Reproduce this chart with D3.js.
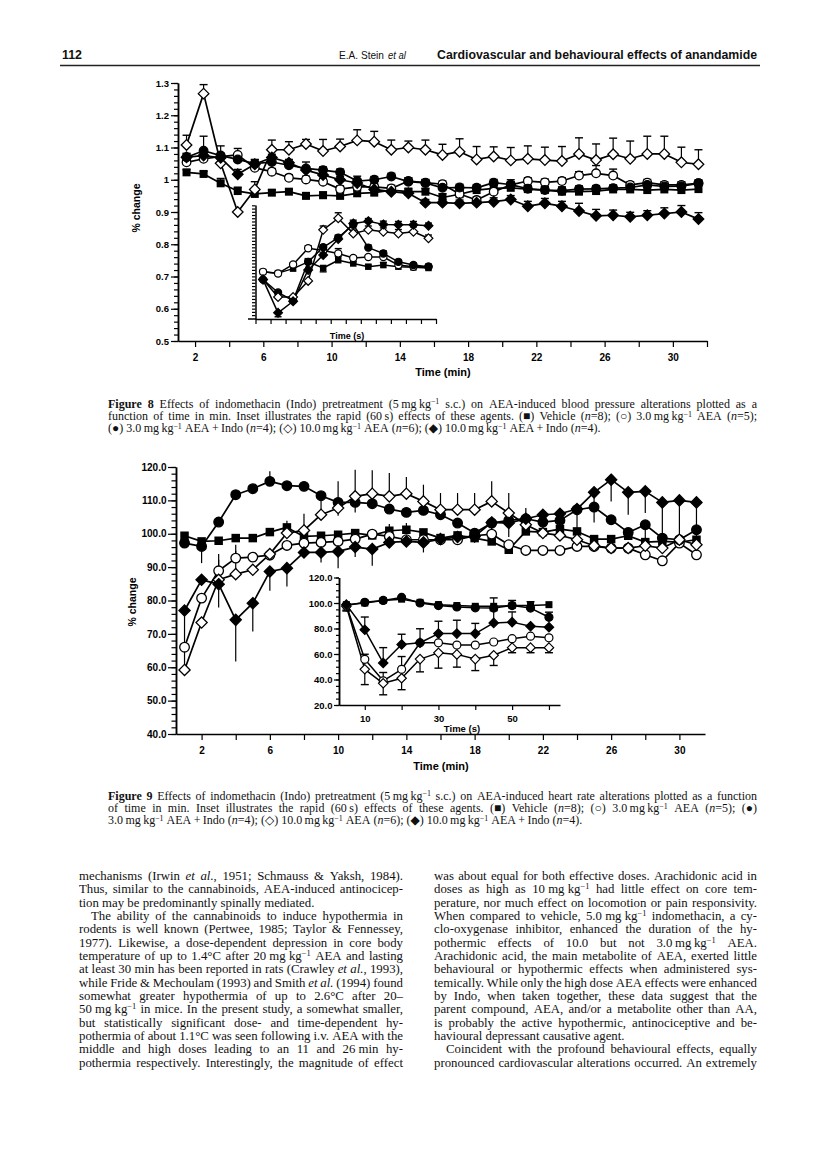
<!DOCTYPE html>
<html><head><meta charset="utf-8">
<script src="https://cdn.jsdelivr.net/npm/d3@7"></script>
<style>body{margin:0;background:#fff} svg{display:block}</style>
</head><body>
<svg id="page" width="816" height="1151"></svg>
<script>
// ---------------- DATA ----------------
// Figure 8 (blood pressure, fraction of baseline) main panel, time in min
const fig8Time = [1.5,2.5,3.5,4.5,5.5,6.5,7.5,8.5,9.5,10.5,11.5,12.5,13.5,14.5,15.5,16.5,17.5,18.5,19.5,20.5,21.5,22.5,23.5,24.5,25.5,26.5,27.5,28.5,29.5,30.5,31.5];
const fig8Vehicle    = [1.023,1.018,0.989,0.965,0.956,0.960,0.963,0.950,0.952,0.950,0.958,0.960,0.968,0.963,0.963,0.945,0.955,0.968,0.973,0.975,0.971,0.968,0.963,0.963,0.965,0.970,0.970,0.968,0.970,0.968,0.971];
const fig8VehicleErr = [0.008,0.008,0.015,0.012,0.010,0.008,0.008,0.010,0.010,0.012,0.010,0.010,0.010,0.010,0.010,0.012,0.010,0.010,0.010,0.012,0.012,0.012,0.015,0.015,0.015,0.012,0.012,0.012,0.012,0.012,0.012];
const fig8AEA3       = [1.054,1.065,1.072,1.077,1.037,1.025,1.006,1.001,0.994,0.971,0.978,0.978,0.973,0.996,0.991,0.986,0.956,0.937,0.963,0.984,0.996,0.992,0.996,1.013,1.020,1.013,0.984,0.991,0.984,0.984,0.989];
const fig8AEA3Err    = [0.010,0.010,0.010,0.020,0.010,0.010,0.010,0.010,0.010,0.010,0.010,0.010,0.010,0.010,0.010,0.010,0.010,0.010,0.010,0.010,0.010,0.010,0.010,0.012,0.024,0.020,0.010,0.010,0.010,0.010,0.010];
const fig8AEA3Indo   = [1.070,1.090,1.075,1.063,1.050,1.055,1.045,1.035,1.030,1.023,0.996,1.000,1.010,0.994,0.990,0.975,0.976,0.975,0.991,0.985,0.972,0.968,0.966,0.971,0.972,0.974,0.976,0.984,0.979,0.980,0.989];
const fig8AEA3IndoErr= [0.012,0.045,0.030,0.012,0.012,0.010,0.010,0.020,0.010,0.010,0.015,0.010,0.010,0.012,0.010,0.010,0.010,0.010,0.010,0.015,0.010,0.010,0.010,0.010,0.010,0.010,0.010,0.010,0.010,0.010,0.010];
const fig8AEA10      = [1.108,1.267,1.051,0.900,0.970,1.093,1.093,1.111,1.089,1.103,1.122,1.118,1.093,1.100,1.093,1.077,1.087,1.063,1.072,1.060,1.065,1.061,1.058,1.080,1.061,1.079,1.065,1.080,1.080,1.054,1.048];
const fig8AEA10Err   = [0.030,0.028,0.030,0.000,0.024,0.030,0.025,0.014,0.036,0.023,0.033,0.032,0.030,0.020,0.030,0.033,0.040,0.040,0.030,0.040,0.040,0.040,0.045,0.050,0.050,0.050,0.055,0.055,0.055,0.047,0.045];
const fig8AEA10Indo  = [1.070,1.075,1.068,1.017,1.048,1.069,1.053,1.030,1.015,1.000,0.990,0.970,0.963,0.958,0.929,0.929,0.927,0.929,0.932,0.939,0.918,0.927,0.918,0.903,0.888,0.890,0.885,0.890,0.895,0.900,0.878];
const fig8AEA10IndoErr=[0.010,0.010,0.010,0.015,0.015,0.010,0.010,0.010,0.010,0.010,0.010,0.010,0.010,0.010,0.010,0.010,0.010,0.012,0.012,0.012,0.015,0.015,0.015,0.024,0.020,0.016,0.014,0.014,0.018,0.020,0.020];
const fig8YTicks  = [0.5,0.6,0.7,0.8,0.9,1.0,1.1,1.2,1.3];
const fig8YLabels = ["0.5","0.6","0.7","0.8","0.9","1","1.1","1.2","1.3"];
const fig8XLabels = [2,6,10,14,18,22,26,30];

// Figure 8 inset (first 60 s)
const fig8InsetTime = [2.5,7.5,12.5,17.5,22.5,27.5,32.5,37.5,42.5,47.5,52.5,57.5];
const fig8InsetVehicle     = [0.714,0.710,0.724,0.745,0.726,0.750,0.740,0.730,0.735,0.730,0.728,0.726];
const fig8InsetVehicleErr  = [0.005,0.005,0.008,0.010,-0.012,0.012,0.005,0.005,0.008,0.006,0.006,0.005];
const fig8InsetAEA3        = [0.714,0.709,0.737,0.787,0.780,0.771,0.757,0.760,0.760,0.735,0.730,0.730];
const fig8InsetAEA3Err     = [0.005,0.005,0.005,0.008,0.010,0.015,0.005,0.005,0.010,0.010,0.010,0.008];
const fig8InsetAEA3Indo    = [0.690,0.650,0.625,0.745,0.790,0.820,0.860,0.789,0.771,0.745,0.735,0.730];
const fig8InsetAEA3IndoErr = [0.000,0.000,0.000,0.008,0.008,0.008,0.008,0.008,0.008,0.006,0.006,0.006];
const fig8InsetAEA10       = [0.690,0.636,0.636,0.686,0.844,0.880,0.833,0.844,0.838,0.833,0.838,0.818];
const fig8InsetAEA10Err    = [0.000,0.000,0.000,0.000,0.012,0.017,0.010,0.012,0.012,0.012,0.015,0.010];
const fig8InsetAEA10Indo   = [0.690,0.587,0.623,0.720,0.766,0.816,0.864,0.871,0.861,0.860,0.860,0.857];
const fig8InsetAEA10IndoErr= [0.000,-0.012,0.000,0.000,0.000,0.010,0.010,0.008,0.010,0.010,0.010,0.008];

// Figure 9 (heart rate, % of baseline) main panel, time in min
const fig9Time = [1,2,3,4,5,6,7,8,9,10,11,12,13,14,15,16,17,18,19,20,21,22,23,24,25,26,27,28,29,30,31];
const fig9Vehicle     = [99.4,97.7,97.9,98.7,98.7,100.5,101.9,99.2,99.4,99.7,100.2,99.5,100.9,101.2,100.4,98.7,99.5,98.7,97.7,95.2,100.7,100.5,101.4,100.7,98.4,98.4,99.4,97.5,97.7,97.5,98.2];
const fig9VehicleErr  = [0,0,0,0,0,0,2,0,0,0,0,0,2,2,0,0,0,0,0,0,3,0,2,0,0,0,0,0,0,0,0];
const fig9AEA3        = [66.0,80.7,88.9,92.7,93.0,93.6,96.5,97.2,97.4,97.7,98.4,99.9,99.2,98.2,98.2,98.2,98.2,99.4,99.9,96.7,95.0,95.0,95.0,96.2,96.2,95.7,95.7,93.7,91.9,97.2,93.7];
const fig9AEA3Err     = [-6,0,5,4,0,0,0,0,0,0,0,0,0,0,0,0,0,0,0,0,0,0,0,0,0,0,0,0,0,0,0];
const fig9AEA3Indo    = [97.2,96.2,103.5,111.7,113.5,115.7,114.4,114.2,111.4,109.4,109.4,109.0,107.4,106.4,107.0,105.7,103.2,100.2,103.2,104.0,104.5,103.5,104.0,107.2,108.0,104.2,100.4,102.7,98.7,98.2,101.2];
const fig9AEA3IndoErr = [0,-5,0,0,0,3,0,0,0,-4,-3,0,0,0,0,0,0,0,-3,-5,0,0,0,0,0,0,0,-5,0,0,-4];
const fig9AEA10       = [59.2,73.4,86.2,87.9,89.2,93.9,100.2,101.0,105.7,107.7,111.2,112.0,111.2,112.0,109.7,107.2,107.2,107.2,109.7,106.2,102.7,100.2,99.5,98.2,96.4,95.7,95.7,96.4,95.7,98.2,96.7];
const fig9AEA10Err    = [0,0,6,7,0,0,0,5,6,8,8,7,7,5,5,5,5,5,6,6,5,0,0,0,0,0,0,0,0,0,0];
const fig9AEA10Indo   = [77.0,86.2,84.9,74.2,79.2,88.7,89.7,94.4,94.4,94.7,96.0,95.4,97.4,97.7,97.4,98.4,99.0,99.2,103.4,103.2,104.5,105.7,106.0,107.4,112.4,116.2,112.4,112.7,109.4,110.0,109.4];
const fig9AEA10IndoErr= [-11,0,-7,-12.5,-8.5,-5.8,-5.5,0,-3,-5,-3,-5,0,0,-3,0,0,0,0,0,0,0,0,-8,-9,-6.5,-6.7,-6.5,-11.7,-12,-9];
const fig9YLabels = ["40.0","50.0","60.0","70.0","80.0","90.0","100.0","110.0","120.0"];
const fig9YTicks  = [40,50,60,70,80,90,100,110,120];
const fig9XLabels = [2,6,10,14,18,22,26,30];

// Figure 9 inset (first 60 s)
const fig9InsetTime = [5,10,15,20,25,30,35,40,45,50,55,60];
const fig9InsetVehicle     = [98.7,100.0,102.0,103.0,100.5,98.7,98.0,97.4,97.4,98.0,98.0,98.7];
const fig9InsetVehicleErr  = [-5,0,0,0,0,0,0,0,0,0,0,0];
const fig9InsetAEA3        = [98.0,55.8,39.0,48.0,68.8,68.8,67.0,67.0,69.4,72.0,74.0,72.7];
const fig9InsetAEA3Err     = [0,4,6.5,10,0,0,0,0,0,0,0,0];
const fig9InsetAEA3Indo    = [98.0,100.5,102.0,104.4,100.0,98.0,96.9,96.2,96.0,98.0,96.0,88.8];
const fig9InsetAEA3IndoErr = [0,0,0,0,0,0,0,0,8,4,5,4];
const fig9InsetAEA10       = [97.4,48.0,37.0,41.0,56.0,60.9,59.7,56.0,59.0,65.0,65.0,65.0];
const fig9InsetAEA10Err    = [-3,-12,-9,-9,-10,-12,-10,-9,-8,-4,-4,-4];
const fig9InsetAEA10Indo   = [98.7,79.0,53.0,67.5,68.8,76.0,76.0,76.0,84.4,85.0,81.8,81.0];
const fig9InsetAEA10IndoErr= [0,10,12,8,11,9.7,10.5,8,9.6,8,0,0];
const fig9InsetYTicks  = [20,40,60,80,100,120];
const fig9InsetYLabels = ["20.0","40.0","60.0","80.0","100.0","120.0"];
const fig9InsetXLabels = [10,30,50];

// Text
const headerLeft = "112";
const headerAuthor = "E.A. Stein";
const headerEtAl = "et al";
const headerTitle = "Cardiovascular and behavioural effects of anandamide";
const caption8 = [
 "*Figure 8*  Effects of indomethacin (Indo) pretreatment (5\u2009mg\u2009kg^\u22121^ s.c.) on AEA-induced blood pressure alterations plotted as a",
 "function of time in min. Inset illustrates the rapid (60\u2009s) effects of these agents. (\u25A0) Vehicle (_n_=8); (\u25CB) 3.0\u2009mg\u2009kg^\u22121^ AEA (_n_=5);",
 "(\u25CF) 3.0\u2009mg\u2009kg^\u22121^ AEA\u2009+\u2009Indo (_n_=4); (\u25C7) 10.0\u2009mg\u2009kg^\u22121^ AEA (_n_=6); (\u25C6) 10.0\u2009mg\u2009kg^\u22121^ AEA\u2009+\u2009Indo (_n_=4)."
];
const caption9 = [
 "*Figure 9*  Effects of indomethacin (Indo) pretreatment (5\u2009mg\u2009kg^\u22121^ s.c.) on AEA-induced heart rate alterations plotted as a function",
 "of time in min. Inset illustrates the rapid (60\u2009s) effects of these agents. (\u25A0) Vehicle (_n_=8); (\u25CB) 3.0\u2009mg\u2009kg^\u22121^ AEA (_n_=5); (\u25CF)",
 "3.0\u2009mg\u2009kg^\u22121^ AEA\u2009+\u2009Indo (_n_=4); (\u25C7) 10.0\u2009mg\u2009kg^\u22121^ AEA (_n_=6); (\u25C6) 10.0\u2009mg\u2009kg^\u22121^ AEA\u2009+\u2009Indo (_n_=4)."
];
const bodyLeft = [
 ["mechanisms (Irwin _et al._, 1951; Schmauss & Yaksh, 1984).",1,0],
 ["Thus, similar to the cannabinoids, AEA-induced antinocicep-",1,0],
 ["tion may be predominantly spinally mediated.",0,0],
 ["The ability of the cannabinoids to induce hypothermia in",1,1],
 ["rodents is well known (Pertwee, 1985; Taylor & Fennessey,",1,0],
 ["1977). Likewise, a dose-dependent depression in core body",1,0],
 ["temperature of up to 1.4\u00B0C after 20\u00A0mg\u00A0kg^\u22121^ AEA and lasting",1,0],
 ["at least 30 min has been reported in rats (Crawley _et al._, 1993),",1,0],
 ["while Fride & Mechoulam (1993) and Smith _et al._ (1994) found",1,0],
 ["somewhat greater hypothermia of up to 2.6\u00B0C after 20\u2013",1,0],
 ["50\u00A0mg\u00A0kg^\u22121^ in mice. In the present study, a somewhat smaller,",1,0],
 ["but statistically significant dose- and time-dependent hy-",1,0],
 ["pothermia of about 1.1\u00B0C was seen following i.v. AEA with the",1,0],
 ["middle and high doses leading to an 11 and 26\u00A0min hy-",1,0],
 ["pothermia respectively. Interestingly, the magnitude of effect",1,0]
];
const bodyRight = [
 ["was about equal for both effective doses. Arachidonic acid in",1,0],
 ["doses as high as 10\u00A0mg\u00A0kg^\u22121^ had little effect on core tem-",1,0],
 ["perature, nor much effect on locomotion or pain responsivity.",1,0],
 ["When compared to vehicle, 5.0\u00A0mg\u00A0kg^\u22121^ indomethacin, a cy-",1,0],
 ["clo-oxygenase inhibitor, enhanced the duration of the hy-",1,0],
 ["pothermic effects of 10.0 but not 3.0\u2009mg\u2009kg^\u22121^ AEA.",1,0],
 ["Arachidonic acid, the main metabolite of AEA, exerted little",1,0],
 ["behavioural or hypothermic effects when administered sys-",1,0],
 ["temically. While only the high dose AEA effects were enhanced",1,0],
 ["by Indo, when taken together, these data suggest that the",1,0],
 ["parent compound, AEA, and/or a metabolite other than AA,",1,0],
 ["is probably the active hypothermic, antinociceptive and be-",1,0],
 ["havioural depressant causative agent.",0,0],
 ["Coincident with the profound behavioural effects, equally",1,1],
 ["pronounced cardiovascular alterations occurred. An extremely",1,0]
];

// ---------------- DRAWING ----------------
const SANS = "'Liberation Sans', Arial, Helvetica, sans-serif";
const NARROW = "'Liberation Sans Narrow', 'Liberation Sans', Arial, sans-serif";
const SERIF = "'Liberation Serif', 'Times New Roman', 'DejaVu Serif', serif";
const INK = "#111";
const svg = d3.select('#page');
svg.append('rect').attr('width',816).attr('height',1151).attr('fill','#fff');

// header
svg.append('text').attr('x',62).attr('y',59).attr('font-family',NARROW).attr('font-weight','bold')
  .attr('font-size',12).attr('fill',INK).attr('textLength',20).attr('lengthAdjust','spacingAndGlyphs').text(headerLeft);
svg.append('text').attr('x',339).attr('y',59).attr('font-family',NARROW).attr('font-size',11.5).attr('fill',INK)
  .attr('textLength',45).attr('lengthAdjust','spacingAndGlyphs').text(headerAuthor);
svg.append('text').attr('x',388).attr('y',59).attr('font-family',NARROW).attr('font-size',11.5).attr('fill',INK)
  .attr('font-style','italic').attr('textLength',18).attr('lengthAdjust','spacingAndGlyphs').text(headerEtAl);
svg.append('text').attr('x',437).attr('y',59).attr('font-family',NARROW).attr('font-weight','bold').attr('font-size',12)
  .attr('fill',INK).attr('textLength',320).attr('lengthAdjust','spacingAndGlyphs').text(headerTitle);
svg.append('line').attr('x1',60).attr('x2',760).attr('y1',65.5).attr('y2',65.5).attr('stroke','#222').attr('stroke-width',1.3);

function drawMarker(g, type, x, y, s) {
  if (type === 'sq') {
    g.append('rect').attr('x', x - s.sq/2).attr('y', y - s.sq/2).attr('width', s.sq).attr('height', s.sq).attr('fill', '#000');
  } else if (type === 'oc' || type === 'fc') {
    g.append('circle').attr('cx', x).attr('cy', y).attr('r', s.r)
      .attr('fill', type === 'fc' ? '#000' : '#fff').attr('stroke', '#000').attr('stroke-width', s.sw);
  } else {
    const d = s.d;
    g.append('path').attr('d', `M${x},${y-d}L${x+d},${y}L${x},${y+d}L${x-d},${y}Z`)
      .attr('fill', type === 'fd' ? '#000' : '#fff').attr('stroke', '#000').attr('stroke-width', s.sw);
  }
}

function drawSeries(g, cfg) {
  const eg = g.append('g');
  cfg.series.forEach(s => {
    s.v.forEach((v, i) => {
      const e = s.e[i]; if (!e) return;
      const x = cfg.xs(cfg.times[i]), y0 = cfg.ys(v), y1 = cfg.ys(v + e);
      eg.append('line').attr('x1', x).attr('x2', x).attr('y1', y0).attr('y2', y1).attr('stroke', '#000').attr('stroke-width', 1.2);
      if (cfg.cap) eg.append('line').attr('x1', x - cfg.cap).attr('x2', x + cfg.cap).attr('y1', y1).attr('y2', y1)
        .attr('stroke', '#000').attr('stroke-width', 1.4);
    });
  });
  const line = d3.line().x((d, i) => cfg.xs(cfg.times[i])).y(d => cfg.ys(d));
  cfg.series.forEach(s => g.append('path').attr('d', line(s.v)).attr('fill', 'none').attr('stroke', '#000')
    .attr('stroke-width', cfg.lw).attr('stroke-linejoin', 'round'));
  cfg.series.forEach(s => s.v.forEach((v, i) => drawMarker(g, s.type, cfg.xs(cfg.times[i]), cfg.ys(v), cfg.ms)));
}

function styleAxis(g, fs) {
  g.attr('font-family', SANS).attr('font-size', fs).attr('font-weight', 'bold');
  g.selectAll('.domain').attr('stroke', '#000').attr('stroke-width', 1.5);
  g.selectAll('.tick line').attr('stroke', '#000').attr('stroke-width', 1.2);
  g.selectAll('.tick text').attr('fill', '#000');
}

function axisLabel(x, y, txt, fs, rot) {
  const t = svg.append('text').attr('font-family', SANS).attr('font-weight', 'bold').attr('font-size', fs)
    .attr('fill', '#000').attr('text-anchor', 'middle').text(txt);
  if (rot) t.attr('transform', `translate(${x},${y}) rotate(-90)`);
  else t.attr('x', x).attr('y', y);
}

// ===== Figure 8 =====
const x8 = d3.scaleLinear().domain([1, 32]).range([178, 707]);
const y8 = d3.scaleLinear().domain([0.5, 1.3]).range([341, 83]);
const g8 = svg.append('g');
styleAxis(g8.append('g').attr('transform', 'translate(178,0)')
  .call(d3.axisLeft(y8).tickValues(d3.range(0.5, 1.301, 0.02)).tickSize(4).tickSizeOuter(0).tickFormat('')), 9.5);
styleAxis(g8.append('g').attr('transform', 'translate(178,0)')
  .call(d3.axisLeft(y8).tickValues(fig8YTicks).tickSize(7).tickSizeOuter(0).tickPadding(2)
    .tickFormat((d, i) => fig8YLabels[i])), 9.5);
styleAxis(g8.append('g').attr('transform', 'translate(0,341)')
  .call(d3.axisBottom(x8).tickValues(d3.range(2, 33, 2)).tickSize(6).tickSizeOuter(0).tickPadding(7)
    .tickFormat(d => fig8XLabels.includes(d) ? d : '')), 10);
axisLabel(443, 376, 'Time (min)', 11);
axisLabel(140, 208, '% change', 10.5, true);

drawSeries(g8, {
  xs: x8, ys: y8, times: fig8Time, cap: 4, lw: 1.7,
  ms: {sq: 8, r: 4.3, d: 5.3, sw: 1.3},
  series: [
    {v: fig8Vehicle, e: fig8VehicleErr, type: 'sq'},
    {v: fig8AEA3, e: fig8AEA3Err, type: 'oc'},
    {v: fig8AEA3Indo, e: fig8AEA3IndoErr, type: 'fc'},
    {v: fig8AEA10, e: fig8AEA10Err, type: 'od'},
    {v: fig8AEA10Indo, e: fig8AEA10IndoErr, type: 'fd'}
  ]
});

// Figure 8 inset
const xi8 = d3.scaleLinear().domain([0, 60]).range([255.5, 436]);
const yi8 = d3.scaleLinear().domain([0.568, 0.921]).range([319, 205]);
const gi8 = svg.append('g');
styleAxis(gi8.append('g').attr('transform', 'translate(255.5,0)')
  .call(d3.axisLeft(yi8).tickValues(d3.range(0.58, 0.921, 0.01)).tickSize(3.5).tickSizeOuter(0).tickFormat('')), 9);
styleAxis(gi8.append('g').attr('transform', 'translate(0,319)')
  .call(d3.axisBottom(xi8).tickValues(d3.range(0, 61, 5)).tickSize(5).tickSizeOuter(0).tickFormat('')), 9);
gi8.append('line').attr('x1', 248).attr('x2', 256).attr('y1', 319).attr('y2', 319).attr('stroke', '#000').attr('stroke-width', 1.5);
axisLabel(347, 338.5, 'Time (s)', 9);
drawSeries(gi8, {
  xs: xi8, ys: yi8, times: fig8InsetTime, cap: 3.5, lw: 1.5,
  ms: {sq: 6.5, r: 3.6, d: 4.4, sw: 1.2},
  series: [
    {v: fig8InsetVehicle, e: fig8InsetVehicleErr, type: 'sq'},
    {v: fig8InsetAEA3, e: fig8InsetAEA3Err, type: 'oc'},
    {v: fig8InsetAEA3Indo, e: fig8InsetAEA3IndoErr, type: 'fc'},
    {v: fig8InsetAEA10, e: fig8InsetAEA10Err, type: 'od'},
    {v: fig8InsetAEA10Indo, e: fig8InsetAEA10IndoErr, type: 'fd'}
  ]
});

// ===== Figure 9 =====
const x9 = d3.scaleLinear().domain([0.5, 31.5]).range([176, 705]);
const y9 = d3.scaleLinear().domain([40, 120]).range([734, 467]);
const g9 = svg.append('g');
styleAxis(g9.append('g').attr('transform', 'translate(176,0)')
  .call(d3.axisLeft(y9).tickValues(d3.range(40, 121, 2)).tickSize(4.5).tickSizeOuter(0).tickFormat('')), 10);
styleAxis(g9.append('g').attr('transform', 'translate(176,0)')
  .call(d3.axisLeft(y9).tickValues(fig9YTicks).tickSize(8).tickSizeOuter(0).tickPadding(1.5)
    .tickFormat((d, i) => fig9YLabels[i])), 10);
styleAxis(g9.append('g').attr('transform', 'translate(0,734)')
  .call(d3.axisBottom(x9).tickValues(d3.range(2, 31, 2)).tickSize(6).tickSizeOuter(0).tickPadding(7)
    .tickFormat(d => fig9XLabels.includes(d) ? d : '')), 10);
axisLabel(441, 770, 'Time (min)', 11);
axisLabel(136, 602, '% change', 10.5, true);

drawSeries(g9, {
  xs: x9, ys: y9, times: fig9Time, cap: 0, lw: 1.7,
  ms: {sq: 8.5, r: 4.8, d: 5.6, sw: 1.3},
  series: [
    {v: fig9Vehicle, e: fig9VehicleErr, type: 'sq'},
    {v: fig9AEA3, e: fig9AEA3Err, type: 'oc'},
    {v: fig9AEA3Indo, e: fig9AEA3IndoErr, type: 'fc'},
    {v: fig9AEA10, e: fig9AEA10Err, type: 'od'},
    {v: fig9AEA10Indo, e: fig9AEA10IndoErr, type: 'fd'}
  ]
});

// Figure 9 inset
const xi9 = d3.scaleLinear().domain([3, 63]).range([339, 560]);
const yi9 = d3.scaleLinear().domain([20, 120]).range([705, 577.5]);
const gi9 = svg.append('g');
styleAxis(gi9.append('g').attr('transform', 'translate(339,0)')
  .call(d3.axisLeft(yi9).tickValues(d3.range(20, 121, 5)).tickSize(3).tickSizeOuter(0).tickFormat('')), 9.5);
styleAxis(gi9.append('g').attr('transform', 'translate(339,0)')
  .call(d3.axisLeft(yi9).tickValues(fig9InsetYTicks).tickSize(5).tickSizeOuter(0).tickPadding(1.5)
    .tickFormat((d, i) => fig9InsetYLabels[i])), 9.5);
styleAxis(gi9.append('g').attr('transform', 'translate(0,705)')
  .call(d3.axisBottom(xi9).tickValues([10, 20, 30, 40, 50, 60]).tickSize(5).tickSizeOuter(0).tickPadding(5)
    .tickFormat(d => fig9InsetXLabels.includes(d) ? d : '')), 9.5);
axisLabel(462, 732, 'Time (s)', 9.5);
drawSeries(gi9, {
  xs: xi9, ys: yi9, times: fig9InsetTime, cap: 4, lw: 1.5,
  ms: {sq: 7, r: 4, d: 4.7, sw: 1.2},
  series: [
    {v: fig9InsetVehicle, e: fig9InsetVehicleErr, type: 'sq'},
    {v: fig9InsetAEA3, e: fig9InsetAEA3Err, type: 'oc'},
    {v: fig9InsetAEA3Indo, e: fig9InsetAEA3IndoErr, type: 'fc'},
    {v: fig9InsetAEA10, e: fig9InsetAEA10Err, type: 'od'},
    {v: fig9InsetAEA10Indo, e: fig9InsetAEA10IndoErr, type: 'fd'}
  ]
});

// ===== justified text =====
function parseLine(s) {
  const words = []; let cur = []; let b = false, it = false, sup = false; let buf = '';
  const flush = () => { if (buf) { cur.push({t: buf, b, i: it, sup}); buf = ''; } };
  for (const ch of s) {
    if (ch === '*') { flush(); b = !b; }
    else if (ch === '_') { flush(); it = !it; }
    else if (ch === '^') { flush(); sup = !sup; }
    else if (ch === ' ') { flush(); if (cur.length) words.push(cur); cur = []; }
    else buf += ch;
  }
  flush(); if (cur.length) words.push(cur);
  return words;
}
function renderLine(s, x0, x1, y, fs, justify, indent) {
  const words = parseLine(s);
  const lg = svg.append('g');
  const nodes = words.map(runs => {
    const t = lg.append('text').attr('x', 0).attr('y', y).attr('font-family', SERIF).attr('font-size', fs).attr('fill', INK);
    let shift = 0;
    runs.forEach(r => {
      const ts = t.append('tspan').text(r.t);
      if (r.b) ts.attr('font-weight', 'bold');
      if (r.i) ts.attr('font-style', 'italic');
      const target = r.sup ? -fs * 0.3 : 0;
      if (target !== shift) { ts.attr('dy', target - shift); shift = target; }
      if (r.sup) ts.attr('font-size', fs * 0.66);
    });
    return t;
  });
  const widths = nodes.map(n => n.node().getComputedTextLength());
  const sum = d3.sum(widths);
  const avail = x1 - x0 - indent;
  const n = nodes.length;
  let gap = fs * 0.25, k = 1;
  if (justify && n > 1) {
    gap = (avail - sum) / (n - 1);
    if (gap < fs * 0.16) { gap = fs * 0.16; k = avail / (sum + gap * (n - 1)); }
  }
  let x = 0;
  nodes.forEach((nd, i) => { nd.attr('x', x); x += widths[i] + gap; });
  lg.attr('transform', `translate(${x0 + indent},0) scale(${k},1)`);
}

caption8.forEach((s, i) => renderLine(s, 108, 757, 408 + i * 12.2, 12, i < 2, 0));
caption9.forEach((s, i) => renderLine(s, 108, 757, 800 + i * 12.2, 12, i < 2, 0));
bodyLeft.forEach((r, i) => renderLine(r[0], 79, 403, 880 + i * 13.33, 12.8, r[1] === 1, r[2] ? 12 : 0));
bodyRight.forEach((r, i) => renderLine(r[0], 434, 757, 880 + i * 13.33, 12.8, r[1] === 1, r[2] ? 12 : 0));
</script>
</body></html>
